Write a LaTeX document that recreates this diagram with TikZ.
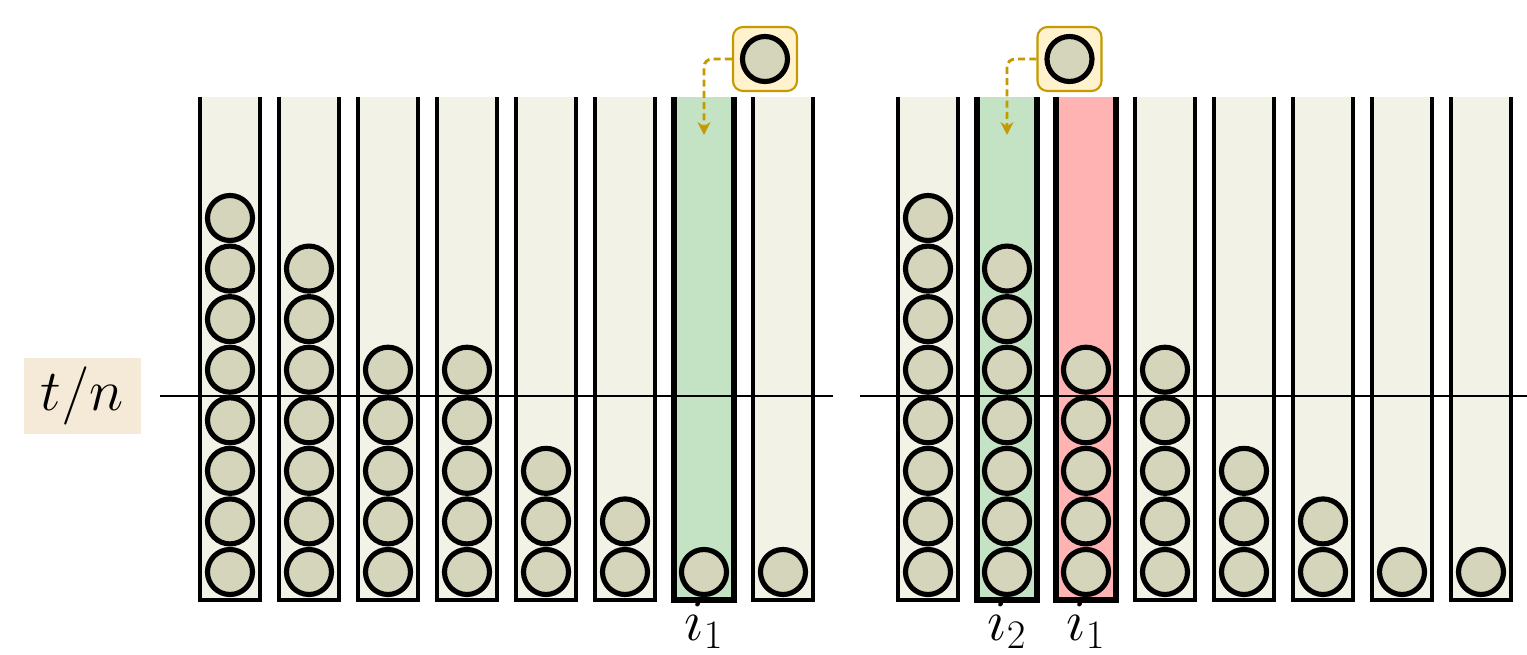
\documentclass[tikz,border=0pt]{standalone}
\usetikzlibrary{arrows.meta}

\definecolor{binfill}{HTML}{F2F3E6}
\definecolor{ballfill}{HTML}{D5D5BC}
\definecolor{hitgreen}{HTML}{C4E3C4}
\definecolor{hitred}{HTML}{FFB3B3}
\definecolor{tnfill}{HTML}{F5EAD7}
\definecolor{newfill}{HTML}{FFF2CC}
\definecolor{gold}{HTML}{C49A00}

\tikzset{
	bin/.style={draw, line width=1.3pt, fill=binfill},
	hitbin/.style={draw, line width=2.3pt},
	ball/.style={circle, draw, line width=2.2pt, fill=ballfill, inner sep=0pt, minimum size=0.675cm},
	newbox/.style={draw=gold, fill=newfill, line width=0.9pt, rounded corners=0.15cm, minimum size=0.96cm},
	drop/.style={gold, line width=1.2pt, dash pattern=on 3pt off 1.8pt, rounded corners=0.12cm, -{Stealth[length=5.5pt,width=5.5pt]}},
	binlabel/.style={anchor=base, inner sep=0pt}
}

\begin{document}
\begin{tikzpicture}[x=0.015cm, y=-0.015cm, font=\fontsize{23}{28}\selectfont]
\useasboundingbox (0,0) rectangle (1527,655);

% the two rows of bins, open at the top
\foreach \k in {0,...,7} {
	\filldraw[bin] ({200+79*\k},97) -- ({200+79*\k},600) -- ({260+79*\k},600) -- ({260+79*\k},97);
	\filldraw[bin] ({898+79*\k},97) -- ({898+79*\k},600) -- ({958+79*\k},600) -- ({958+79*\k},97);
}
\filldraw[hitbin, fill=hitgreen] (674,97) -- (674,600) -- (734,600) -- (734,97);
\filldraw[hitbin, fill=hitgreen] (977,97) -- (977,600) -- (1037,600) -- (1037,97);
\filldraw[hitbin, fill=hitred] (1056,97) -- (1056,600) -- (1116,600) -- (1116,97);

% threshold line
\node[fill=tnfill, minimum width=1.755cm, minimum height=1.14cm] (tn) at (82.5,396) {$t/n$};
\coordinate (lineLa) at (160,396);
\coordinate (lineLb) at (833,396);
\coordinate (lineRa) at (860,396);
\coordinate (lineRb) at (1527,396);
\draw[line width=0.9pt] (lineLa) -- (lineLb);
\draw[line width=0.9pt] (lineRa) -- (lineRb);

% balls in the bins
\foreach \n [count=\k from 0] in {8,7,5,5,3,2,1,1} {
	\foreach \j in {1,...,\n} {
		\node[ball] (bL\k-\j) at ({230+79*\k},{572-50.57*(\j-1)}) {};
		\node[ball] (bR\k-\j) at ({928+79*\k},{572-50.57*(\j-1)}) {};
	}
}

% incoming balls
\node[newbox] (newL) at (765,59) {};
\node[ball] (ballL) at (newL) {};
\node[newbox] (newR) at (1069.5,59) {};
\node[ball] (ballR) at (newR) {};
\coordinate (dropL) at (704,135);
\coordinate (dropR) at (1007,135);
\draw[drop] (newL.west) -| (dropL);
\draw[drop] (newR.west) -| (dropR);

% bin labels
\node[binlabel] (iL1) at (704,640) {$i_1$};
\node[binlabel] (iR2) at (1007,640) {$i_2$};
\node[binlabel] (iR1) at (1086,640) {$i_1$};
\end{tikzpicture}
\end{document}
